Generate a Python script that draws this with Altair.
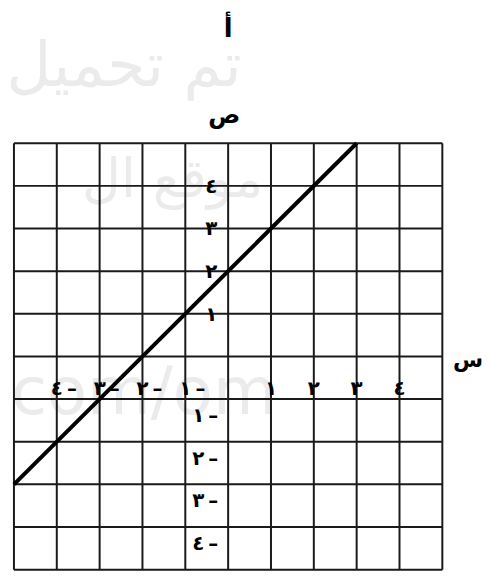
import altair as alt
import pandas as pd

# ---- data ----
grid_vals = list(range(-5, 6))
line_x = [-5, 3]
line_y = [-3, 5]
pos_ticks = [1, 2, 3, 4]
pos_labels = ["١", "٢", "٣", "٤"]
neg_ticks = [-1, -2, -3, -4]
neg_labels = ["١\u2009–", "٢\u2009–", "٣\u2009–", "٤\u2009–"]
title_text = "أ"
y_title = "ص"
x_title = "س"
watermark_texts = ["تم تحميل", "موقع ال", "com/om"]

W, H = 432, 430
FONT = "DejaVu Sans"
xs = alt.Scale(domain=[-5, 5], nice=False, zero=False)
ys = alt.Scale(domain=[-5, 5], nice=False, zero=False)


def px2x(px):
    return px / W * 10 - 5


def py2y(py):
    return 5 - py / H * 10


grid_df = pd.DataFrame({"v": grid_vals})
line_df = pd.DataFrame({"x": line_x, "y": line_y})
pos_df = pd.DataFrame({"t": pos_ticks, "lab": pos_labels, "z": 0})
neg_df = pd.DataFrame({"t": neg_ticks, "lab": neg_labels, "z": 0})


def free_text(s, px, py, size, color="black", weight="bold"):
    df = pd.DataFrame({"s": [s], "x": [px2x(px)], "y": [py2y(py)]})
    return alt.Chart(df).mark_text(
        font=FONT, fontSize=size, fontWeight=weight, color=color,
        align="center", baseline="middle"
    ).encode(
        x=alt.X("x:Q", scale=xs, axis=None),
        y=alt.Y("y:Q", scale=ys, axis=None),
        text="s:N",
    )


wm_specs = [(111, -77, 62), (160, 38, 54), (131, 253, 66)]
watermarks = [free_text(t, p[0], p[1], p[2], "#ebebeb", "normal")
              for t, p in zip(watermark_texts, wm_specs)]

vgrid = alt.Chart(grid_df).mark_rule(color="#1a1a1a", strokeWidth=2).encode(
    x=alt.X("v:Q", scale=xs, axis=None)
)
hgrid = alt.Chart(grid_df).mark_rule(color="#1a1a1a", strokeWidth=2).encode(
    y=alt.Y("v:Q", scale=ys, axis=None)
)
line = alt.Chart(line_df).mark_line(color="black", strokeWidth=4).encode(
    x=alt.X("x:Q", scale=xs, axis=None), y=alt.Y("y:Q", scale=ys, axis=None)
)

txt_kw = dict(font=FONT, fontSize=20, fontWeight="bold", color="black", baseline="middle")

x_pos = alt.Chart(pos_df).mark_text(align="center", dy=33, **txt_kw).encode(
    x=alt.X("t:Q", scale=xs, axis=None), y=alt.Y("z:Q", scale=ys, axis=None), text="lab:N"
)
x_neg = alt.Chart(neg_df).mark_text(align="left", dx=-6, dy=33, **txt_kw).encode(
    x=alt.X("t:Q", scale=xs, axis=None), y=alt.Y("z:Q", scale=ys, axis=None), text="lab:N"
)
y_pos = alt.Chart(pos_df).mark_text(align="center", dx=-17, dy=1, **txt_kw).encode(
    y=alt.Y("t:Q", scale=ys, axis=None), x=alt.X("z:Q", scale=xs, axis=None), text="lab:N"
)
y_neg = alt.Chart(neg_df).mark_text(align="right", dx=-10, dy=17, **txt_kw).encode(
    y=alt.Y("t:Q", scale=ys, axis=None), x=alt.X("z:Q", scale=xs, axis=None), text="lab:N"
)

ttl = free_text(title_text, 216, -115, 26)
ytl = free_text(y_title, 212, -27, 24)
xtl = free_text(x_title, 458, 219, 22)

chart = alt.layer(
    *watermarks, vgrid, hgrid, line, x_pos, x_neg, y_pos, y_neg, ttl, ytl, xtl
).properties(
    width=W, height=H,
    autosize=alt.AutoSizeParams(type="none"),
    padding={"left": 6, "top": 134, "right": 40, "bottom": 0},
).configure_view(stroke=None)

chart.save("out.html", embed_options={"renderer": "svg", "actions": False})
